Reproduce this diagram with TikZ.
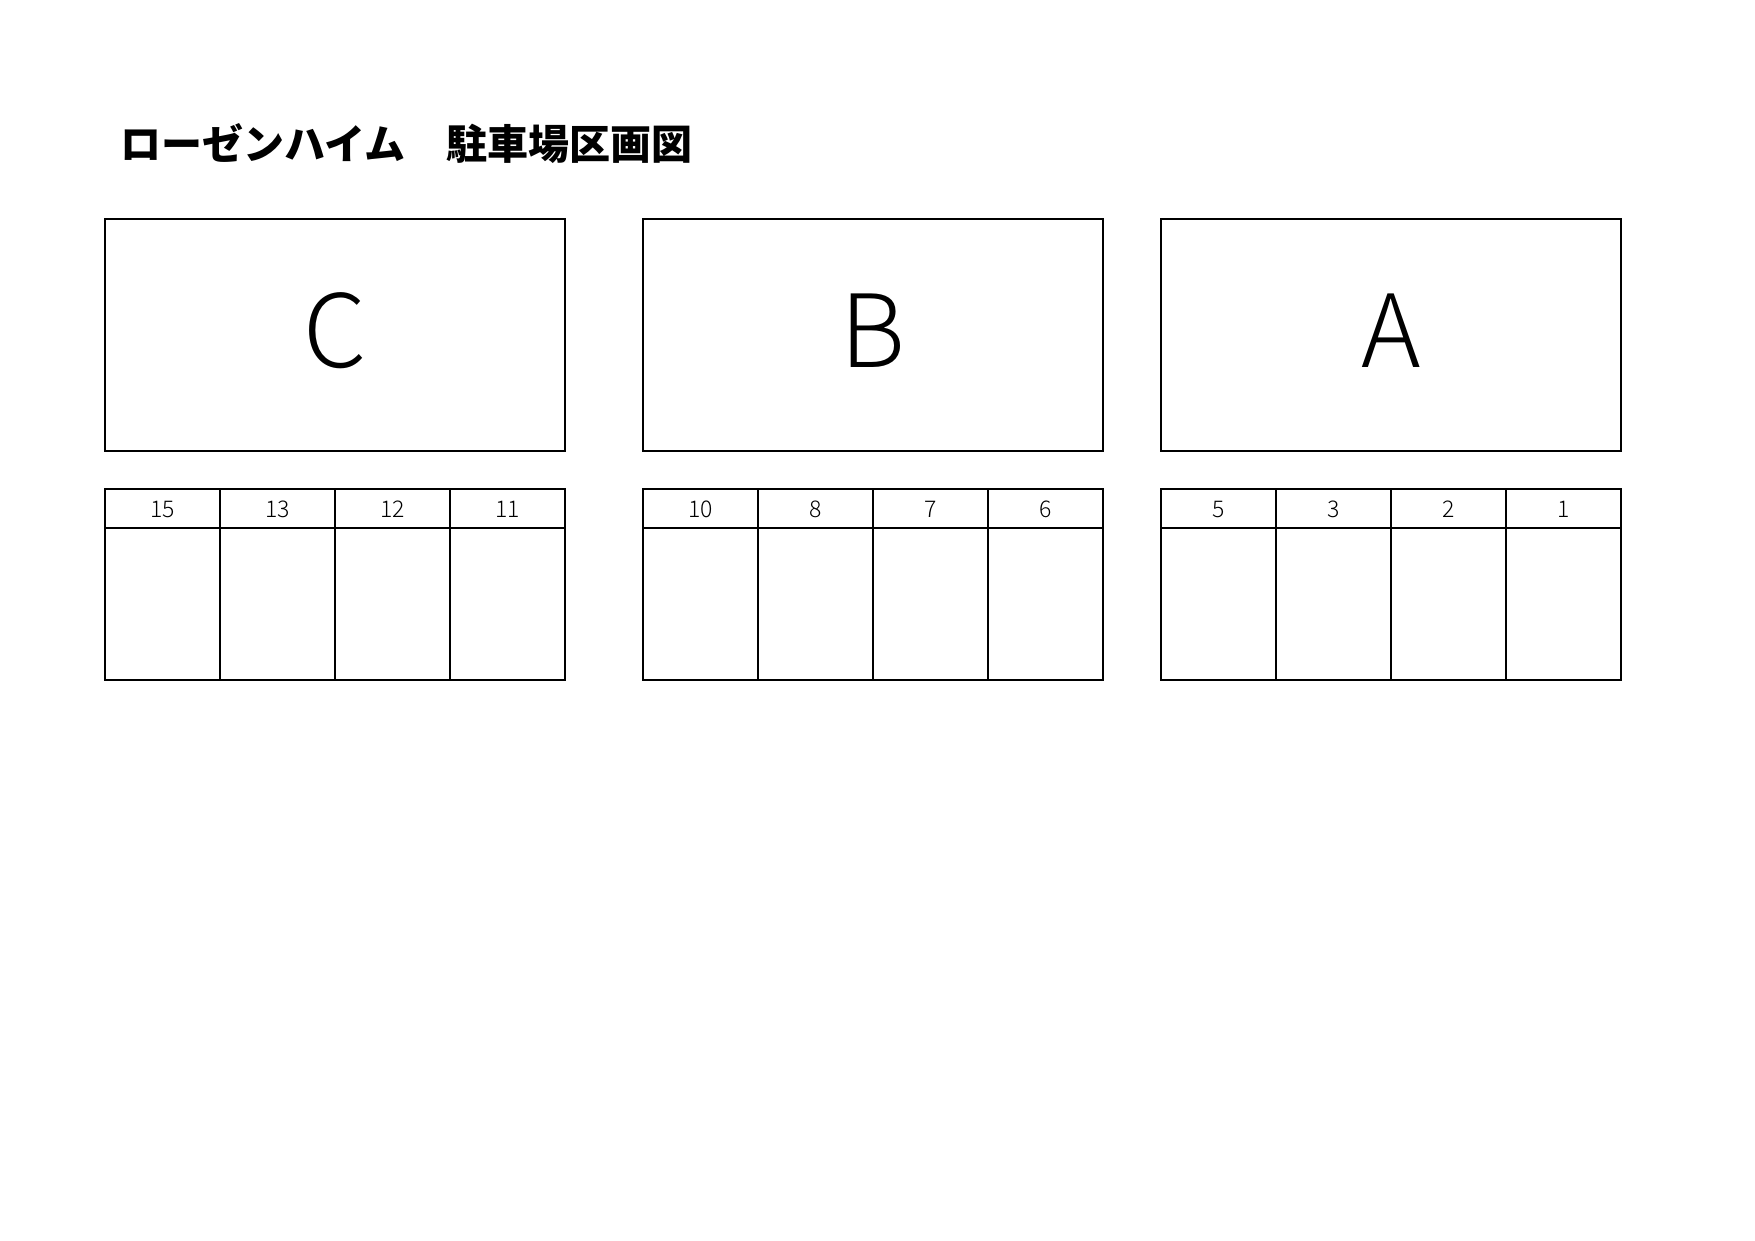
\documentclass[tikz,border=0pt]{standalone}
\usepackage{fontspec}
\setmainfont{Noto Sans CJK JP}
\newfontfamily\lightfont{Noto Sans CJK JP Light}
\begin{document}
\begin{tikzpicture}[x=1pt,y=-1pt,
  frame/.style={draw=black,line width=2.6pt,inner sep=0pt,outer sep=0pt,minimum width=460pt,minimum height=232pt},
  cell/.style={draw=black,line width=2.6pt,inner sep=0pt,outer sep=0pt,minimum width=115pt},
  headcell/.style={cell,minimum height=39pt},
  bodycell/.style={cell,minimum height=152pt},
  bigletter/.style={anchor=base,inner sep=0pt,font=\lightfont\fontsize{101}{110}\selectfont},
  numlabel/.style={anchor=base,inner sep=0pt,font=\lightfont\fontsize{23}{26}\selectfont},
  titletext/.style={anchor=base west,inner sep=0pt,font=\fontsize{41}{46}\selectfont\bfseries}]
\useasboundingbox[fill=white] (0,0) rectangle (1755,1241);
\node[titletext] (title) at (120,160) {ローゼンハイム　駐車場区画図};
\foreach \nm/\x/\a/\b/\c/\d in {C/105/15/13/12/11, B/643/10/8/7/6, A/1161/5/3/2/1} {
  \node[frame] (box\nm) at ({\x+230},335) {};
  \node[bigletter] (lab\nm) at ({\x+230},367) {\nm};
  \foreach \n [count=\i from 0] in {\a,\b,\c,\d} {
    \node[headcell] (head\n) at ({\x+57.5+115*\i},508.5) {};
    \node[bodycell] (slot\n) at ({\x+57.5+115*\i},604) {};
    \node[numlabel] (num\n) at ({\x+57.5+115*\i},517) {\n};
  }
}
\end{tikzpicture}
\end{document}
